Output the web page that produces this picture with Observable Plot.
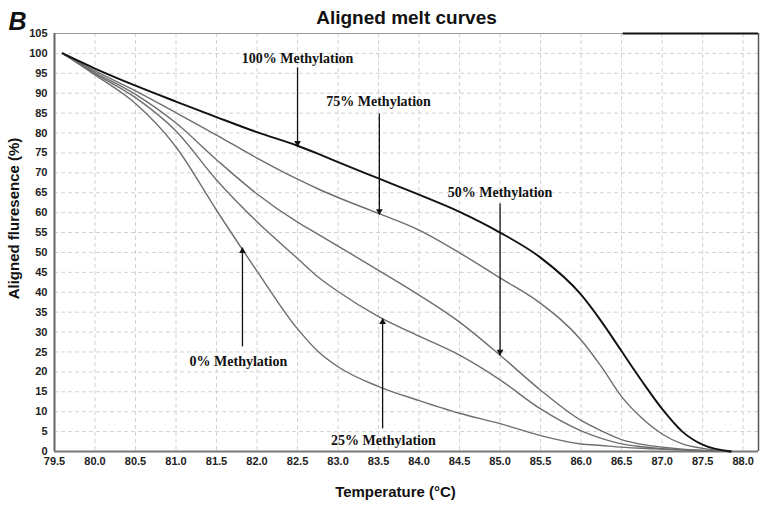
<!DOCTYPE html>
<html>
<head>
<meta charset="utf-8">
<script src="https://cdn.jsdelivr.net/npm/d3@7"></script>
<script src="https://cdn.jsdelivr.net/npm/@observablehq/plot@0.6"></script>
<style>
  html, body { margin: 0; padding: 0; background: #fff; }
  #chart { width: 765px; height: 505px; }
</style>
</head>
<body>
<div id="chart"></div>
<script>
// ---- Data ----
const temps = [79.6, 80.0, 80.5, 81.0, 81.5, 82.0, 82.5, 82.75, 83.0, 83.5, 84.0, 84.5, 85.0, 85.5, 86.0, 86.25, 86.5, 86.75, 87.0, 87.25, 87.5, 87.85];
const meth100 = [100, 96.2, 91.9, 87.9, 84.0, 80.2, 76.8, 74.8, 72.7, 68.6, 64.5, 60.2, 55.0, 48.7, 39.4, 32.7, 25.2, 17.7, 10.7, 5.0, 1.7, 0];
const meth75  = [100, 95.6, 90.6, 85.1, 79.5, 73.7, 68.4, 66.0, 63.8, 59.8, 55.6, 49.9, 43.6, 37.2, 28.0, 21.3, 13.8, 8.4, 4.4, 1.9, 0.8, 0];
const meth50  = [100, 95.2, 89.7, 82.5, 73.3, 64.7, 57.6, 54.6, 51.6, 45.5, 39.3, 32.5, 24.2, 15.4, 7.8, 5.2, 3.0, 1.8, 1.1, 0.6, 0.3, 0];
const meth25  = [100, 94.9, 88.9, 80.5, 68.2, 57.7, 48.5, 43.9, 40.2, 33.9, 29.0, 24.2, 18.0, 10.7, 5.2, 3.3, 1.9, 1.2, 0.7, 0.4, 0.2, 0];
const meth0   = [100, 94.6, 87.4, 76.5, 60.6, 45.3, 30.8, 25.2, 21.3, 16.3, 12.8, 9.6, 7.0, 4.0, 1.9, 1.5, 1.1, 0.8, 0.6, 0.4, 0.2, 0];

const seriesNames = ["100% Methylation", "75% Methylation", "50% Methylation", "25% Methylation", "0% Methylation"];
const seriesValues = [meth100, meth75, meth50, meth25, meth0];

const xTicks = [79.5, 80.0, 80.5, 81.0, 81.5, 82.0, 82.5, 83.0, 83.5, 84.0, 84.5, 85.0, 85.5, 86.0, 86.5, 87.0, 87.5, 88.0];
const yTicks = [0, 5, 10, 15, 20, 25, 30, 35, 40, 45, 50, 55, 60, 65, 70, 75, 80, 85, 90, 95, 100, 105];

// annotation labels and arrows (data coordinates)
const annLabels = ["100% Methylation", "75% Methylation", "50% Methylation", "0% Methylation", "25% Methylation"];
const annTextX  = [82.5, 83.5, 85.0, 81.77, 83.56];
const annTextY  = [98.8, 87.9, 65.1, 22.6, 2.8];
const arrowX    = [82.5, 83.51, 85.0, 81.82, 83.55];
const arrowFrom = [96.5, 84.9, 62.3, 26.4, 5.8];
const arrowTo   = [76.6, 59.5, 24.2, 51.2, 33.4];

const title = "Aligned melt curves";
const panelLetter = "B";
const xLabel = "Temperature (°C)";
const yLabel = "Aligned fluresence (%)";

// ---- Build tables ----
const rows = [];
seriesNames.forEach((name, s) => {
  temps.forEach((t, i) => rows.push({series: name, t, v: seriesValues[s][i]}));
});
const anns = annLabels.map((label, i) => ({
  label, tx: annTextX[i], ty: annTextY[i], x: arrowX[i], from: arrowFrom[i], to: arrowTo[i]
}));
const downArrows = anns.filter(d => d.to < d.from);
const upArrows = anns.filter(d => d.to > d.from);

const xMax = 88.19;
const sans = "'Liberation Sans', Arial, Helvetica, sans-serif";
const serif = "'Liberation Serif', 'Times New Roman', serif";

const chart = Plot.plot({
  width: 765,
  height: 505,
  marginLeft: 54,
  marginRight: 7,
  marginTop: 33,
  marginBottom: 54,
  style: {fontFamily: sans, background: "#fff", overflow: "visible"},
  x: {domain: [79.5, xMax]},
  y: {domain: [0, 105]},
  marks: [
    Plot.gridX(xTicks.filter(t => t > 79.5), {stroke: "#d2d2d2", strokeOpacity: 1, strokeDasharray: "4,3"}),
    Plot.gridY(yTicks.filter(v => v > 0 && v < 105), {stroke: "#d2d2d2", strokeOpacity: 1, strokeDasharray: "4,3"}),
    // frame
    Plot.ruleY([105], {stroke: "#9a9a9a", strokeWidth: 1}),
    Plot.ruleY([105], {x1: 86.52, x2: xMax, stroke: "#111", strokeWidth: 2}),
    Plot.ruleX([xMax], {stroke: "#555", strokeWidth: 1.5}),
    Plot.ruleX([79.5], {stroke: "#666", strokeWidth: 2}),
    Plot.ruleY([0], {stroke: "#777", strokeWidth: 2}),
    // axes
    Plot.axisX({ticks: xTicks, tickFormat: d => d.toFixed(1), tickSize: 0, tickPadding: 6,
      fontSize: 11, fontWeight: "bold", fill: "#222", label: null}),
    Plot.axisY({ticks: yTicks, tickSize: 0, tickPadding: 7,
      fontSize: 11, fontWeight: "bold", fill: "#222", label: null}),
    // curves (grey first, black on top)
    ...seriesNames.slice(1).map(name =>
      Plot.line(rows.filter(r => r.series === name), {x: "t", y: "v", stroke: "#6e6e6e", strokeWidth: 1.4, curve: "monotone-x"})
    ),
    Plot.line(rows.filter(r => r.series === seriesNames[0]), {x: "t", y: "v", stroke: "#111", strokeWidth: 1.9, curve: "monotone-x"}),
    // arrows
    Plot.link(anns, {x1: "x", x2: "x", y1: "from", y2: "to", stroke: "#111", strokeWidth: 1.3}),
    Plot.dot(downArrows, {x: "x", y: "to", symbol: "triangle", r: 2.5, fill: "#111", rotate: 180, dy: -3.5}),
    Plot.dot(upArrows, {x: "x", y: "to", symbol: "triangle", r: 2.5, fill: "#111", dy: 3.5}),
    // annotation labels
    Plot.text(anns, {x: "tx", y: "ty", text: "label", fontFamily: serif, fontWeight: "bold", fontSize: 14, fill: "#111"}),
    // titles
    Plot.text([title], {frameAnchor: "top", dy: -16, text: d => d, fontSize: 19, fontWeight: "bold", fill: "#111", textAnchor: "middle", lineAnchor: "middle"}),
    Plot.text([panelLetter], {frameAnchor: "top-left", dx: -46, dy: -12, text: d => d, fontSize: 25, fontWeight: "bold", fontStyle: "italic", fill: "#111", textAnchor: "start", lineAnchor: "middle"}),
    Plot.text([xLabel], {frameAnchor: "bottom", dx: -11, dy: 41, text: d => d, fontSize: 15, fontWeight: "bold", fill: "#111", textAnchor: "middle", lineAnchor: "middle"}),
    Plot.text([yLabel], {frameAnchor: "left", dx: -40, dy: -24, rotate: -90, text: d => d, fontSize: 15, fontWeight: "bold", fill: "#111", textAnchor: "middle", lineAnchor: "middle"})
  ]
});
document.getElementById("chart").appendChild(chart);
</script>
</body>
</html>
